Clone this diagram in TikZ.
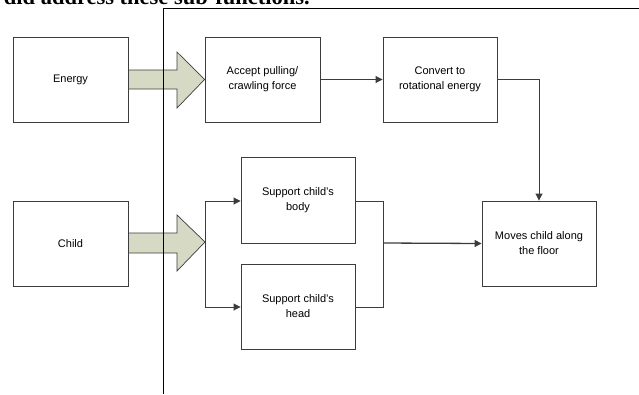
\documentclass[tikz,border=0pt]{standalone}
\usepackage{fontspec}
\setmainfont{Liberation Sans}
\newfontfamily\serifb{Liberation Serif}
\usetikzlibrary{arrows.meta}
\definecolor{boxline}{RGB}{60,60,60}
\definecolor{bigfill}{RGB}{214,218,196}
\tikzset{
  fbox/.style={draw=boxline, line width=0.9pt, fill=white, align=center, font=\fontsize{11}{15}\selectfont, inner sep=0pt},
  conn/.style={draw=boxline, line width=0.9pt},
  arr/.style={conn, -{Triangle[length=7pt,width=7pt]}},
  bigarrow/.style={draw=boxline, line width=0.7pt, fill=bigfill}
}
\begin{document}
\begin{tikzpicture}[x=1pt,y=-1pt]
\useasboundingbox (0,0) rectangle (639,394);
\begin{scope}
\clip (0,0) rectangle (639,394);
\node[anchor=base east, inner sep=0pt, font=\serifb\bfseries\fontsize{22.5}{24}\selectfont] (title) at (310,4.5) {did address these sub-functions.};
\end{scope}
% frame lines
\coordinate (ftop) at (163,8);
\coordinate (fright) at (639,8);
\coordinate (fbot) at (163,394);
\draw[draw=black, line width=1pt] (fbot) -- (ftop) -- (fright);
% boxes
\node[fbox, minimum width=115pt, minimum height=85pt] (energy) at (70.5,79.5) {Energy};
\node[fbox, minimum width=115pt, minimum height=85pt] (child) at (70.5,243.5) {Child};
\node[fbox, minimum width=115pt, minimum height=85pt] (accept) at (262.5,79.5) {Accept pulling/\\crawling force};
\node[fbox, minimum width=114pt, minimum height=85pt] (convert) at (440,79.5) {Convert to\\rotational energy};
\node[fbox, minimum width=114pt, minimum height=86pt] (body) at (298,200) {Support child's\\body};
\node[fbox, minimum width=114pt, minimum height=85pt] (head) at (298,306.5) {Support child's\\head};
\node[fbox, minimum width=114pt, minimum height=85pt] (moves) at (539,243.5) {Moves child along\\the floor};
% big arrows
\draw[bigarrow] (energy.east |- 0,70) -- (177,70) -- (177,52) -- (accept.west) -- (177,108) -- (177,89) -- (energy.east |- 0,89) -- cycle;
\draw[bigarrow] (child.east |- 0,233) -- (177,233) -- (177,215) -- (205,242) -- (177,271) -- (177,253) -- (child.east |- 0,253) -- cycle;
\draw[draw=black, line width=1pt] (163,60) -- (163,300);
% connectors
\draw[arr] (accept.east) -- (convert.west);
\draw[arr] (convert.east) -| (moves.north);
\coordinate (split) at (205,242);
\draw[arr] (split) |- (body.west |- 0,201);
\draw[arr] (split) |- (head.west |- 0,307);
\coordinate (join) at (383,243);
\draw[conn] (body.east |- 0,201) -| (join);
\draw[conn] (head.east |- 0,307) -| (join);
\draw[arr, line width=1.3pt] (join) -- (moves.west);
\end{tikzpicture}
\end{document}
